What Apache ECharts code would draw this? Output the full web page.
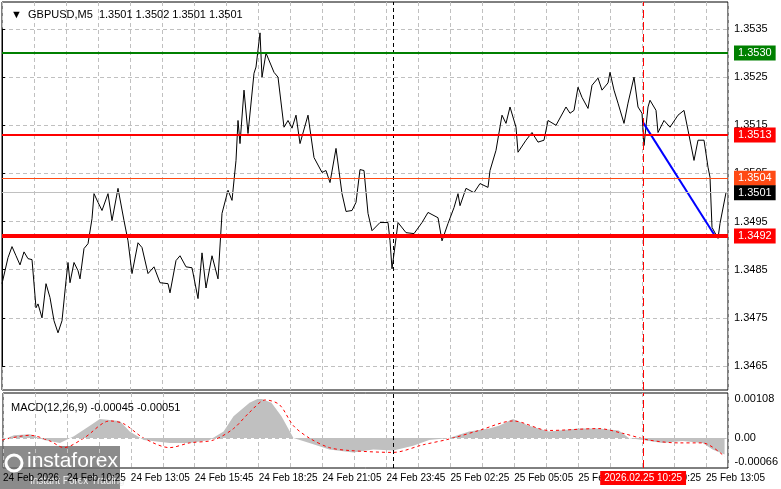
<!DOCTYPE html>
<html>
<head>
<meta charset="utf-8">
<script src="https://cdn.jsdelivr.net/npm/echarts@6/dist/echarts.min.js"></script>
<style>html,body{margin:0;padding:0;background:#fff}#chart{width:781px;height:489px}</style>
</head>
<body>
<div id="chart"></div>
<script>
// [bar index (5 min bars from 24 Feb 07:45), close]
const priceData = [
    [0,1.34821],[3,1.34875],[5,1.34898],[7,1.34879],[9,1.34860],[11,1.34887],[13,1.34873],[15,1.34871],
    [17,1.34771],[18,1.34779],[20,1.34750],[22,1.34821],[24,1.34792],[26,1.34744],[28,1.34719],[30,1.34744],
    [32,1.34827],[33,1.34865],[34,1.34823],[36,1.34865],[38,1.34848],[39,1.34831],[41,1.34894],[43,1.34904],
    [45,1.34956],[46,1.35008],[48,1.34990],[50,1.34973],[53,1.35008],[55,1.34952],[58,1.35019],[61,1.34952],
    [63,1.34910],[65,1.34842],[68,1.34906],[70,1.34896],[73,1.34842],[76,1.34856],[79,1.34823],[83,1.34821],
    [84,1.34802],[87,1.34869],[89,1.34879],[92,1.34856],[95,1.34854],[98,1.34790],[100,1.34885],[102,1.34812],
    [105,1.34879],[108,1.34831],[110,1.34967],[113,1.35015],[115,1.34994],[117,1.35077],[118,1.35160],[119,1.35112],
    [121,1.35223],[123,1.35133],[126,1.35258],[127,1.35271],[129,1.35342],[130,1.35250],[132,1.35300],[136,1.35260],
    [138,1.35250],[141,1.35146],[143,1.35160],[145,1.35144],[147,1.35171],[149,1.35112],[153,1.35171],[156,1.35083],
    [160,1.35052],[162,1.35056],[164,1.35031],[167,1.35102],[170,1.35008],[172,1.34971],[175,1.34973],[177,1.34990],
    [179,1.35058],[181,1.35056],[183,1.34967],[185,1.34931],[189,1.34948],[193,1.34948],[194,1.34910],[195,1.34852],
    [197,1.34915],[198,1.34948],[202,1.34927],[206,1.34925],[210,1.34948],[213,1.34969],[218,1.34958],[220,1.34910],
    [223,1.34946],[226,1.34979],[228,1.35008],[229,1.34983],[232,1.35019],[236,1.35010],[239,1.35029],[243,1.35021],
    [244,1.35056],[247,1.35098],[250,1.35171],[252,1.35154],[254,1.35188],[257,1.35146],[258,1.35094],[262,1.35119],
    [265,1.35135],[268,1.35115],[271,1.35119],[273,1.35160],[277,1.35150],[282,1.35188],[284,1.35175],[286,1.35181],
    [288,1.35229],[290,1.35208],[293,1.35185],[295,1.35233],[298,1.35248],[300,1.35223],[303,1.35238],[304,1.35260],
    [306,1.35223],[308,1.35196],[311,1.35154],[313,1.35196],[316,1.35250],[318,1.35188],[320,1.35175],[321,1.35108],
    [323,1.35188],[324,1.35202],[327,1.35181],[328,1.35135],[331,1.35160],[334,1.35146],[338,1.35171],[341,1.35181],
    [343,1.35140],[346,1.35077],[348,1.35119],[351,1.35119],[353,1.35063],[354,1.35042],[355,1.34938],[358,1.34915],
    [359,1.34946],[362,1.35010]
];
const trendLine = [[320.5,1.35156],[357,1.34917]];

// MACD main (grey histogram outline) and signal, in units of 0.001
const macdData = [
    [0,-0.053],[6,0.079],[14,0.105],[21,-0.053],[29,-0.132],[36,0.053],[44,0.342],[49,0.527],[59,0.474],[64,0.184],
    [71,-0.053],[84,-0.132],[94,-0.132],[104,-0.053],[111,0.184],[116,0.606],[124,0.975],[129,1.107],[135,0.975],
    [140,0.606],[146,0],[154,-0.132],[164,-0.316],[176,-0.395],[186,-0.316],[196,-0.342],[206,-0.211],[214,-0.053],
    [224,0],[234,0.184],[244,0.263],[249,0.342],[256,0.527],[264,0.342],[274,0.184],[289,0.263],[299,0.263],
    [309,0.211],[314,0],[321,-0.053],[331,-0.132],[341,-0.079],[351,-0.132],[356,-0.316],[362,-0.45]
];
const signalData = [
    [0,-0.053],[14,0.079],[24,-0.079],[31,-0.263],[41,0],[54,0.474],[61,0.395],[71,0],[84,-0.263],[94,-0.132],
    [106,-0.053],[116,0.263],[124,0.711],[132,1.054],[139,0.922],[146,0.342],[154,0],[164,-0.263],[174,-0.342],
    [196,-0.395],[211,-0.184],[224,-0.026],[239,0.211],[256,0.474],[274,0.211],[299,0.263],[311,0.132],[324,-0.053],
    [339,-0.132],[351,-0.132],[362,-0.51]
];

const levels = [
    { value: 1.3530, color: '#008000', width: 2 },
    { value: 1.3513, color: '#ff0000', width: 2 },
    { value: 1.3492, color: '#ff0000', width: 4 },
    { value: 1.3504, color: '#ff4a14', width: 1 },
    { value: 1.3501, color: '#c0c0c0', width: 1, bg: '#000' }
];

const startTime = Date.UTC(2026, 1, 24, 7, 45);
const months = ['Jan','Feb','Mar','Apr','May','Jun','Jul','Aug','Sep','Oct','Nov','Dec'];
const pad = n => (n < 10 ? '0' : '') + n;
function barLabel(i) {
    if (i % 32 !== 0) return '';
    const d = new Date(startTime + i * 300000);
    if (i === 0) return d.getUTCDate() + ' ' + months[d.getUTCMonth()] + ' 2026';
    return d.getUTCDate() + ' ' + months[d.getUTCMonth()] + ' ' + pad(d.getUTCHours()) + ':' + pad(d.getUTCMinutes());
}

const FONT = 'Liberation Sans';
const dash = { color: '#c0c0c0', type: [4, 3], width: 1 };
const L = 2, R = 53;

const chart = echarts.init(document.getElementById('chart'));
chart.setOption({
    animation: false,
    textStyle: { fontFamily: FONT },
    title: [
        { text: '▼  GBPUSD,M5  1.3501 1.3502 1.3501 1.3501', left: 6, top: 4, textStyle: { fontSize: 11, fontWeight: 'normal', color: '#000', fontFamily: FONT } },
        { text: 'MACD(12,26,9) -0.00045 -0.00051', left: 6, top: 397, textStyle: { fontSize: 11, fontWeight: 'normal', color: '#000', fontFamily: FONT } }
    ],
    grid: [
        { left: L, right: R, top: 2, bottom: 99, show: true, borderColor: '#000', borderWidth: 1 },
        { left: L, right: R, top: 29, bottom: 123 },
        { left: L, right: R, top: 393, bottom: 21, show: true, borderColor: '#000', borderWidth: 1 },
        { left: L, right: R, top: 399, bottom: 27 }
    ],
    xAxis: [
        { gridIndex: 0, type: 'value', min: 0, max: 363, interval: 16, axisLabel: { show: false }, axisLine: { show: false }, axisTick: { show: false }, splitLine: { show: true, lineStyle: dash } },
        { gridIndex: 1, type: 'value', min: 0, max: 363, show: false },
        { gridIndex: 2, type: 'value', min: 0, max: 363, interval: 16,
          axisLine: { show: false },
          axisTick: { show: false },
          splitLine: { show: true, lineStyle: dash },
          axisLabel: { formatter: v => barLabel(v), showMaxLabel: false, align: 'left', margin: 5, fontSize: 10, color: '#000' } },
        { gridIndex: 3, type: 'value', min: 0, max: 363, show: false }
    ],
    yAxis: [
        { gridIndex: 0, type: 'value', min: 0, max: 1, show: false },
        { gridIndex: 1, type: 'value', position: 'right', min: 1.3465, max: 1.3535, interval: 0.001,
          axisLine: { show: true, lineStyle: { color: '#000' } },
          axisTick: { show: true, length: 3 },
          axisLabel: { formatter: v => v.toFixed(4), margin: 6, fontSize: 11, color: '#000' },
          splitLine: { show: true, lineStyle: dash } },
        { gridIndex: 2, type: 'value', min: 0, max: 1, show: false },
        { gridIndex: 3, type: 'value', position: 'right', min: -0.66, max: 1.08, interval: 0.66,
          axisLine: { show: false },
          axisTick: { show: false },
          axisLabel: { showMaxLabel: true, margin: 8, fontSize: 11, color: '#000',
              formatter: v => Math.abs(v - 0.66) < 1e-6 ? '' : (Math.abs(v) < 1e-6 ? '0.00' : (v / 1000).toFixed(5)) },
          splitLine: { show: false } }
    ],
    graphic: [
        { type: 'group', left: 0, top: 446, z: 100, children: [
            { type: 'rect', shape: { x: 0, y: 0, width: 120, height: 43 }, style: { fill: 'rgba(110,110,110,0.8)' } },
            { type: 'circle', shape: { cx: 14, cy: 17, r: 8 }, style: { fill: 'none', stroke: '#fff', lineWidth: 3 } },
            { type: 'text', style: { x: 27, y: 5, text: 'instaforex', fill: '#fff', font: '21px "Liberation Sans"' } },
            { type: 'text', style: { x: 30, y: 30, text: 'Instant Forex Trading', fill: '#eee', font: '10px "Liberation Sans"' } }
        ] }
    ],
    series: [
        { type: 'line', xAxisIndex: 0, yAxisIndex: 0, data: [[0, -5]], symbol: 'none', silent: true,
          markLine: { symbol: 'none', silent: true, label: { show: false },
              data: [
                  { xAxis: 195.5, lineStyle: { color: '#000', type: [4, 3], width: 1 } },
                  { xAxis: 320.5, lineStyle: { color: '#ff0000', type: [8, 4], width: 1 } }
              ] } },
        { type: 'line', xAxisIndex: 2, yAxisIndex: 2, data: [[0, -5]], symbol: 'none', silent: true, z: 10,
          markLine: { symbol: 'none', silent: true,
              data: [
                  { xAxis: 195.5, lineStyle: { color: '#000', type: [4, 3], width: 1 }, label: { show: false } },
                  { xAxis: 320.5, lineStyle: { color: '#ff0000', type: [8, 4], width: 1 },
                    label: { show: true, position: 'start', formatter: '2026.02.25 10:25', color: '#fff', backgroundColor: '#ff0000', padding: [2, 4], fontSize: 10, distance: 3 } }
              ] } },
        { name: 'GBPUSD', type: 'line', xAxisIndex: 1, yAxisIndex: 1, data: priceData, symbol: 'none', clip: false,
          lineStyle: { color: '#000', width: 1 }, z: 3,
          markLine: { symbol: 'none', silent: true,
              data: levels.map(l => [
                  { coord: [0, l.value],
                    lineStyle: { color: l.color, width: l.width, type: 'solid' },
                    label: { show: true, position: 'end', distance: 6, formatter: l.value.toFixed(4), color: '#fff',
                             backgroundColor: l.bg || l.color, padding: [2, 4], fontSize: 11 } },
                  { coord: [363, l.value] }
              ]) } },
        { type: 'line', xAxisIndex: 1, yAxisIndex: 1, data: trendLine, symbol: 'none', clip: false,
          lineStyle: { color: '#0000ff', width: 2 }, z: 4 },
        { name: 'MACD', type: 'line', xAxisIndex: 3, yAxisIndex: 3, data: macdData, symbol: 'none',
          lineStyle: { width: 0 }, areaStyle: { color: '#c0c0c0', opacity: 1, origin: 0 },
          markLine: { symbol: 'none', silent: true, label: { show: false },
              data: [[{ coord: [0, 0], lineStyle: { color: '#c0c0c0', type: [4, 3], width: 1 } }, { coord: [363, 0] }]] } },
        { name: 'Signal', type: 'line', xAxisIndex: 3, yAxisIndex: 3, data: signalData, symbol: 'none', smooth: 0.3,
          lineStyle: { color: '#ff0000', type: [3, 3], width: 1 } }
    ]
});
</script>
</body>
</html>
